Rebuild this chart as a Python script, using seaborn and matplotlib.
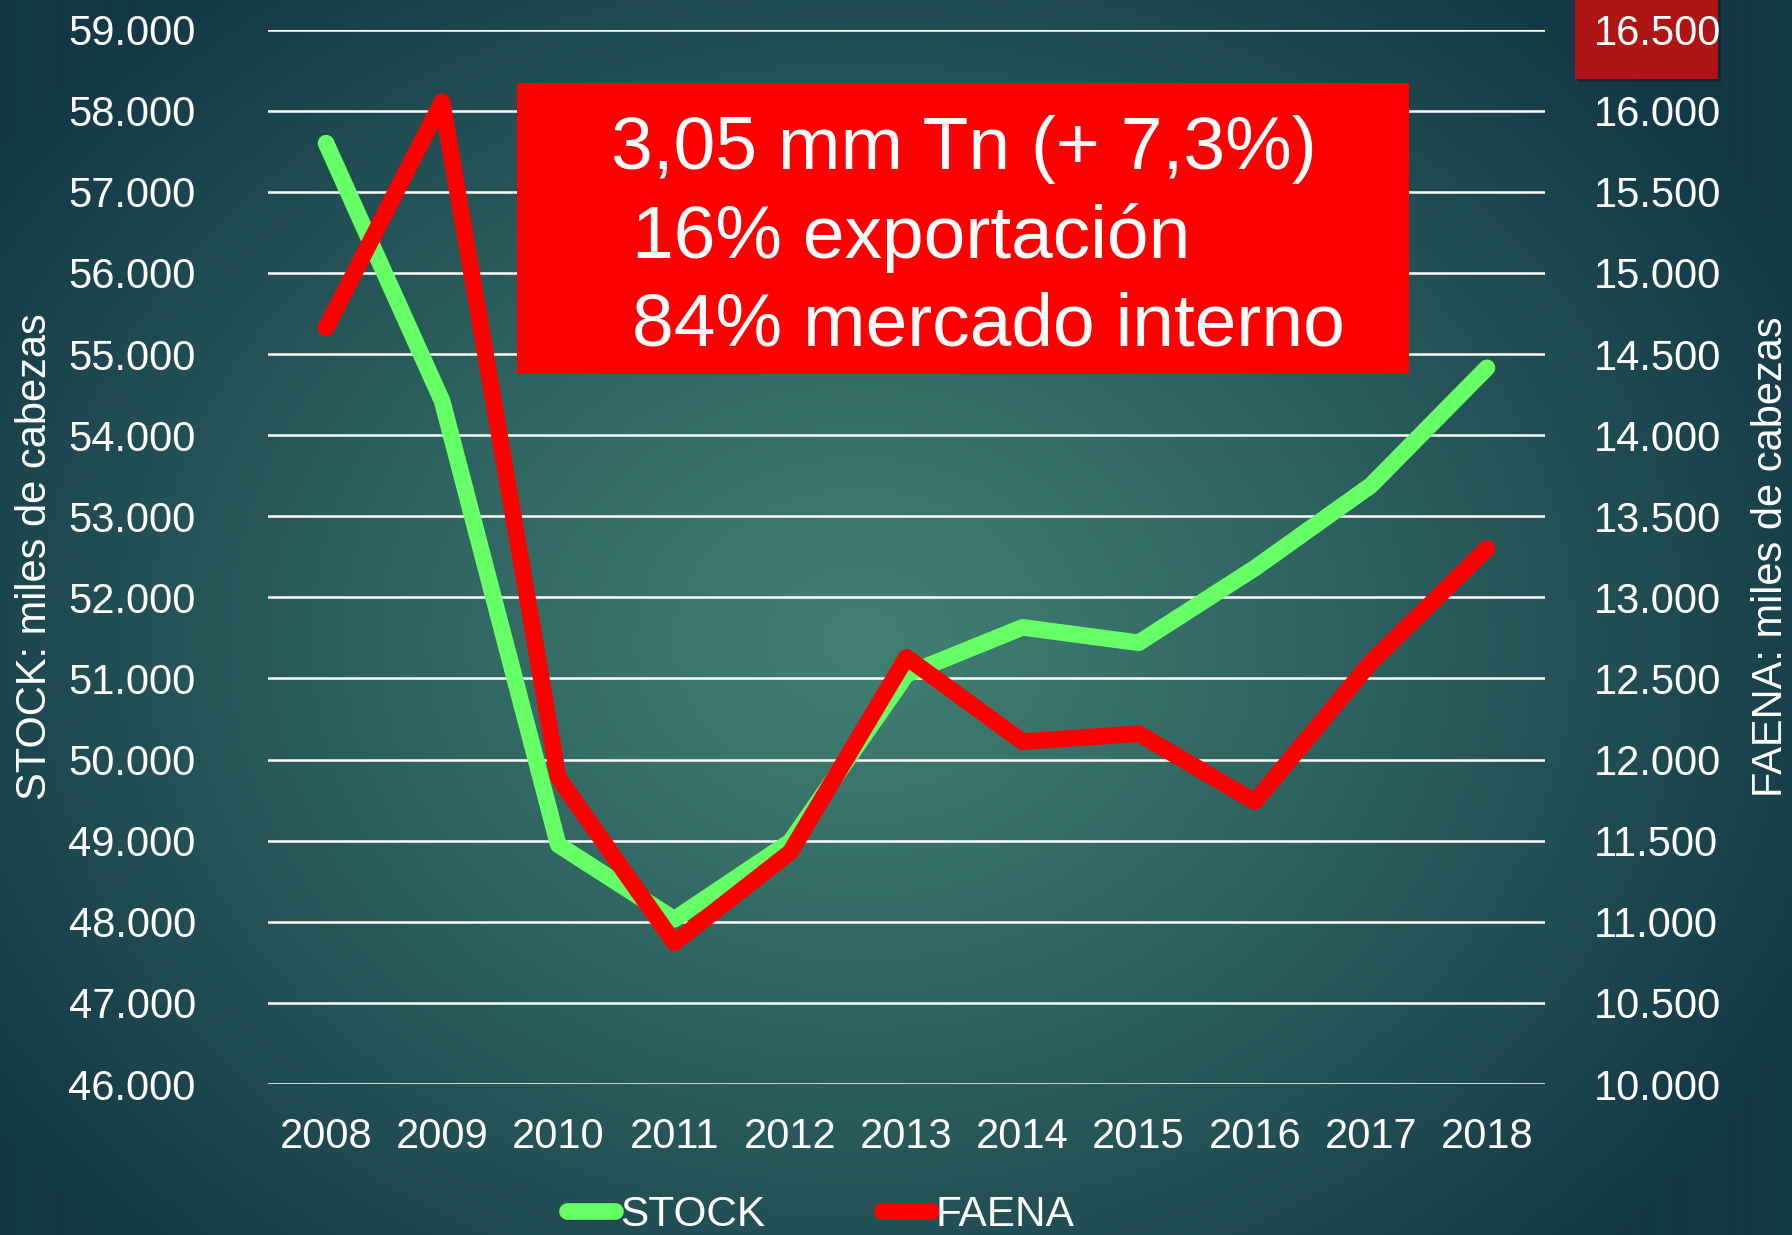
import numpy as np
import matplotlib
matplotlib.use("Agg")
import matplotlib.pyplot as plt
import seaborn as sns
from matplotlib.patches import Rectangle
from matplotlib.lines import Line2D
from matplotlib.ticker import FuncFormatter

# ---------------- data ----------------
years = [2008, 2009, 2010, 2011, 2012, 2013, 2014, 2015, 2016, 2017, 2018]
stock = [57600, 54420, 48950, 48030, 48990, 51050, 51630, 51440, 52360, 53380, 54830]
faena = [14660, 16055, 11890, 10870, 11430, 12630, 12110, 12160, 11740, 12600, 13300]
left_ticks = list(range(46000, 59001, 1000))
right_ticks = list(range(10000, 16501, 500))
box_lines = ["3,05 mm Tn (+ 7,3%)", "16% exportación", "84% mercado interno"]
series_names = ["STOCK", "FAENA"]
left_label = "STOCK: miles de cabezas"
right_label = "FAENA: miles de cabezas"

GREEN = "#66ff66"
RED = "#ff0000"
LW = 12

plt.rcParams["font.family"] = ["Liberation Sans", "DejaVu Sans"]

W, H = 1792, 1235
fig = plt.figure(figsize=(W / 100, H / 100), dpi=100)

# background radial gradient
bg = fig.add_axes([0, 0, 1, 1], zorder=-10)
yy, xx = np.mgrid[0:H, 0:W]
r = np.sqrt(((xx - 860) / 1050.0) ** 2 + ((yy - 640) / 850.0) ** 2)
r = np.clip(r, 0, 1) ** 1.1
c0 = np.array([0x42, 0x80, 0x73]) / 255.0
c1 = np.array([0x13, 0x38, 0x46]) / 255.0
img = c0 + (c1 - c0) * r[..., None]
bg.imshow(img, aspect="auto", extent=[0, 1, 0, 1], origin="upper", zorder=0)
bg.set_xlim(0, 1)
bg.set_ylim(0, 1)
bg.axis("off")
# dark red tab top right (with soft shadow)
bg.add_patch(Rectangle((1578 / W, 1 - 82 / H), 143 / W, 82 / H, facecolor="#000000",
                       alpha=0.25, edgecolor="none", zorder=1))
bg.add_patch(Rectangle((1575 / W, 1 - 79 / H), 143 / W, 79 / H, facecolor="#b01515",
                       edgecolor="none", zorder=2))

# main axes
ax = fig.add_axes([268 / W, 1 - 1084 / H, (1545 - 268) / W, (1084 - 29.6) / H])
ax.patch.set_alpha(0)
ax2 = ax.twinx()
ax2.patch.set_alpha(0)

sns.lineplot(x=years, y=stock, ax=ax, color=GREEN, lw=LW, solid_capstyle="round",
             legend=False)
sns.lineplot(x=years, y=faena, ax=ax2, color=RED, lw=LW, solid_capstyle="round",
             legend=False)

ax.set_xlim(2007.5, 2018.5)
ax.set_ylim(46000, 59000)
ax2.set_ylim(10000, 16500)
ax.set_xticks(years)
ax.set_yticks(left_ticks)
ax2.set_yticks(right_ticks)
fmt = FuncFormatter(lambda v, p: f"{v:,.0f}".replace(",", "."))
ax.yaxis.set_major_formatter(fmt)
ax2.yaxis.set_major_formatter(fmt)

ax.grid(axis="y", color="white", lw=1.8)
ax.grid(axis="x", visible=False)
ax2.grid(False)
ax.set_axisbelow(True)

for a in (ax, ax2):
    for s in a.spines.values():
        s.set_visible(False)

ax.tick_params(axis="y", length=0, labelsize=30, colors="white", pad=52)
ax.tick_params(axis="x", length=0, labelsize=30, colors="white", pad=24)
ax2.tick_params(axis="y", length=0, labelsize=30, colors="white", pad=35)

ax.set_xlabel("")
ax.set_ylabel(left_label, fontsize=30, color="white")
ax.yaxis.set_label_coords(-0.167, 0.5)
ax2.set_ylabel(right_label, fontsize=30, color="white")
ax2.yaxis.set_label_coords(1.161, 0.5)

# red annotation box
fig.patches.append(Rectangle((517 / W, 1 - 374 / H), (1409 - 517) / W, (374 - 83) / H,
                             transform=fig.transFigure, facecolor=RED,
                             edgecolor="none", zorder=1))
fig.text(611 / W, 1 - 169 / H, box_lines[0], fontsize=54, color="white",
         ha="left", va="baseline")
fig.text(632 / W, 1 - 258 / H, box_lines[1], fontsize=54, color="white",
         ha="left", va="baseline")
fig.text(632 / W, 1 - 345 / H, box_lines[2], fontsize=54, color="white",
         ha="left", va="baseline")

# legend
handles = [Line2D([0], [0], color=GREEN, lw=LW, solid_capstyle="round"),
           Line2D([0], [0], color=RED, lw=LW, solid_capstyle="round")]
fig.legend(handles, series_names, loc="lower center", bbox_to_anchor=(0.458, 0.0),
           ncol=2, frameon=False, fontsize=30.5, labelcolor="white",
           handlelength=1.15, handletextpad=0.12, columnspacing=2.75,
           borderpad=0.0, borderaxespad=0.0)

fig.savefig("out.png", dpi=100)
